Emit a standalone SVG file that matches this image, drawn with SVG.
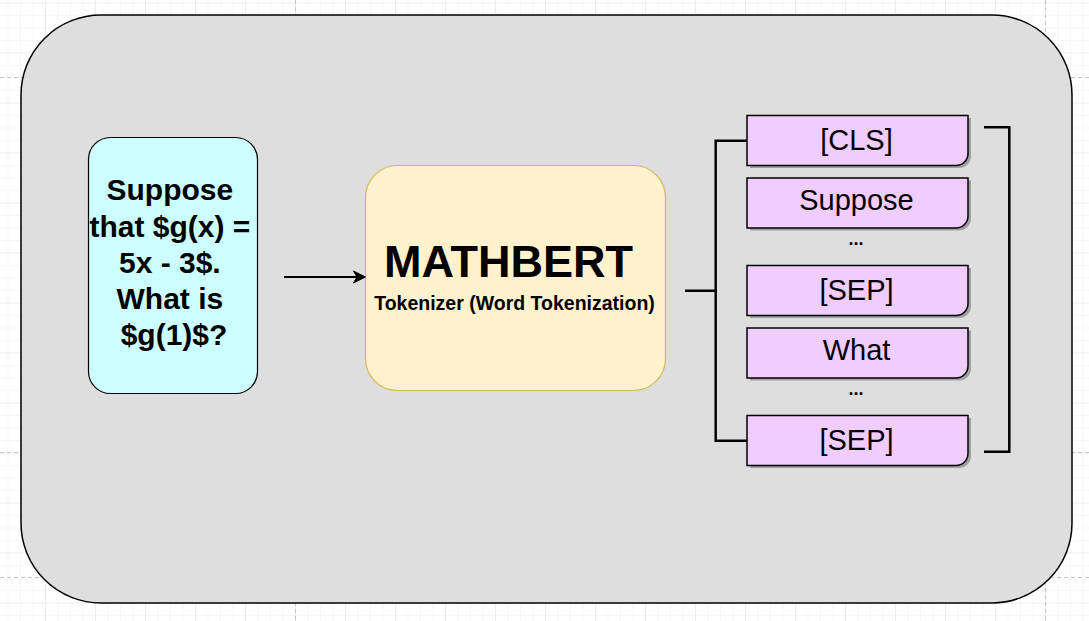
<svg xmlns="http://www.w3.org/2000/svg" width="1089" height="621" viewBox="0 0 1089 621">
  <defs>
    <pattern id="minor" x="7.5" y="2.5" width="12.5" height="12.5" patternUnits="userSpaceOnUse">
      <path d="M0 0 V12.5 M0 0 H12.5" fill="none" stroke="#f0f0f0" stroke-width="1"/>
    </pattern>
    <pattern id="major" x="45" y="2.5" width="50" height="50" patternUnits="userSpaceOnUse">
      <path d="M0 0 V50 M0 0 H50" fill="none" stroke="#e3e3e3" stroke-width="1"/>
    </pattern>
    <path id="tok" d="M0 0 H221 V38 A12 12 0 0 1 209 50 H0 Z"/>
  </defs>
  <style>
    .tok { fill: #F0CCFF; stroke: #000; stroke-width: 1.5; }
    .shadow { fill: #000; opacity: 0.28; }
    .toktext { font-family: "Liberation Sans", Arial, sans-serif; font-size: 29px; fill: #000; text-anchor: middle; }
    .dots { font-family: "Liberation Sans", Arial, sans-serif; font-size: 18px; font-weight: bold; fill: #000; text-anchor: middle; }
    .bold { font-family: "Liberation Sans", Arial, sans-serif; font-weight: bold; fill: #000; text-anchor: middle; }
    .conn { fill: none; stroke: #000; stroke-width: 2.5; }
    .pagebreak { fill: none; stroke: #c4c4c4; stroke-width: 1; stroke-dasharray: 4 3; }
  </style>

  <!-- background grid -->
  <rect width="1089" height="621" fill="#ffffff"/>
  <rect width="1089" height="621" fill="url(#minor)"/>
  <rect width="1089" height="621" fill="url(#major)"/>
  <path class="pagebreak" d="M0 77.5 H1089 M0 452.5 H1089 M0 577.5 H1089 M295.5 0 V621 M1045.5 0 V621"/>

  <!-- container -->
  <g id="container">
    <rect x="21" y="15" width="1051" height="588" rx="80" ry="80" fill="#DEDEDE" stroke="#000" stroke-width="1.5"/>
  </g>

  <!-- input question -->
  <g id="input">
    <rect x="88.5" y="137.5" width="169" height="256" rx="22" ry="22" fill="#CCFFFF" stroke="#000" stroke-width="1.2"/>
    <text class="bold" font-size="30">
      <tspan x="174" y="200">Suppose</tspan>
      <tspan x="174" y="236.5">that $g(x) =</tspan>
      <tspan x="174" y="273">5x - 3$.</tspan>
      <tspan x="174" y="309">What is</tspan>
      <tspan x="174" y="345">$g(1)$?</tspan>
    </text>
  </g>

  <!-- MATHBERT tokenizer -->
  <g id="mathbert">
    <rect x="365.5" y="165.5" width="300" height="225" rx="32" ry="32" fill="#FFF2CC" stroke="#D6B656" stroke-width="1.2"/>
    <text class="bold" x="508.5" y="277" font-size="45">MATHBERT</text>
    <text class="bold" x="514.5" y="309.5" font-size="19.5">Tokenizer (Word Tokenization)</text>
  </g>

  <!-- tokens -->
  <g id="tok-cls">
    <use href="#tok" class="shadow" x="750" y="118"/>
    <use href="#tok" class="tok" x="747" y="115.5"/>
    <text class="toktext" x="856.5" y="150">[CLS]</text>
  </g>
  <g id="tok-suppose">
    <use href="#tok" class="shadow" x="750" y="180.5"/>
    <use href="#tok" class="tok" x="747" y="178"/>
    <text class="toktext" x="856.5" y="209.5">Suppose</text>
  </g>
  <g id="dots-1">
    <text class="dots" x="856" y="245">...</text>
  </g>
  <g id="tok-sep1">
    <use href="#tok" class="shadow" x="750" y="268"/>
    <use href="#tok" class="tok" x="747" y="265.5"/>
    <text class="toktext" x="856.5" y="299.5">[SEP]</text>
  </g>
  <g id="tok-what">
    <use href="#tok" class="shadow" x="750" y="330.5"/>
    <use href="#tok" class="tok" x="747" y="328"/>
    <text class="toktext" x="856.5" y="359.5">What</text>
  </g>
  <g id="dots-2">
    <text class="dots" x="856" y="395">...</text>
  </g>
  <g id="tok-sep2">
    <use href="#tok" class="shadow" x="750" y="418"/>
    <use href="#tok" class="tok" x="747" y="415.5"/>
    <text class="toktext" x="856.5" y="449.5">[SEP]</text>
  </g>

  <!-- connectors -->
  <g id="connectors">
    <path d="M284 277 H358" fill="none" stroke="#000" stroke-width="1.8"/>
    <path d="M365.5 277 L353.5 271 L357 277 L353.5 283 Z" fill="#000" stroke="#000" stroke-width="1"/>
    <path class="conn" d="M685 290.7 H715.7 M747 140.7 H715.7 V440.7 H747"/>
    <path class="conn" d="M984 127.3 H1009.3 V451.7 H984"/>
  </g>
</svg>
